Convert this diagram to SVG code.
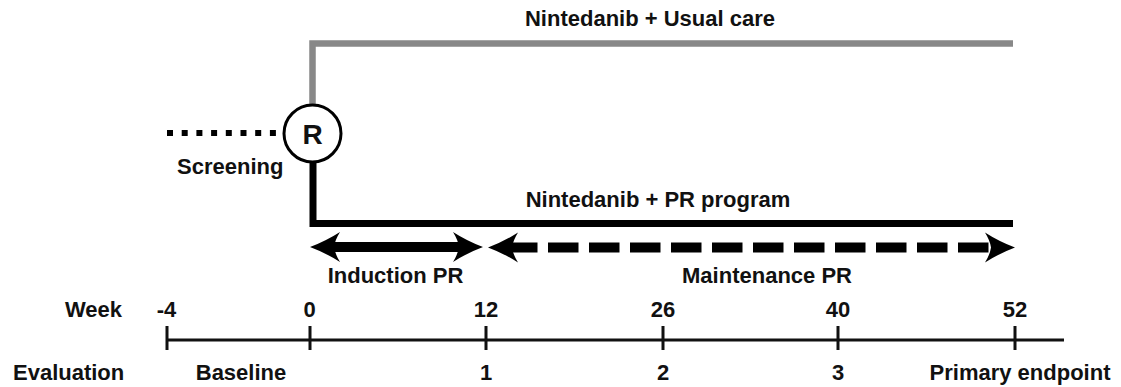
<svg xmlns="http://www.w3.org/2000/svg" width="1121" height="387" viewBox="0 0 1121 387">
<style>
text{font-family:"Liberation Sans",Arial,sans-serif;font-weight:bold;font-size:22px;fill:#111}
.m{text-anchor:middle}
.e{text-anchor:end}
.ax{stroke:#111;stroke-width:3;fill:none}
.ah{fill:#000;stroke:none}
</style>
<defs>
<path id="headL" d="M0,0 Q16,-6 30,-15 Q25,-7 24,0 Q25,7 30,15 Q16,6 0,0 Z"/>
</defs>
<g id="connectors">
<path d="M312.5,105 V43.5 H1013" fill="none" stroke="#888" stroke-width="6.5"/>
<path d="M313,162 V223.5 H1013" fill="none" stroke="#000" stroke-width="7"/>
<line x1="167" y1="133" x2="277" y2="133" stroke="#000" stroke-width="6" stroke-dasharray="6 8.7"/>
</g>
<g id="node-R">
<circle cx="312.5" cy="133.5" r="28.5" fill="#fff" stroke="#000" stroke-width="3"/>
<text class="m" x="312.5" y="144" style="font-size:28px">R</text>
</g>
<g id="node-top-label"><text class="m" x="650" y="26">Nintedanib + Usual care</text></g>
<g id="node-bottom-label"><text class="m" x="658" y="207">Nintedanib + PR program</text></g>
<g id="node-screening"><text x="177" y="174">Screening</text></g>
<g id="induction-arrow">
<line x1="330" y1="247" x2="464" y2="247" stroke="#000" stroke-width="10"/>
<use href="#headL" class="ah" transform="translate(310,247)"/>
<use href="#headL" class="ah" transform="translate(483,247) scale(-1,1)"/>
<text class="m" x="395.5" y="283">Induction PR</text>
</g>
<g id="maintenance-arrow">
<line x1="507" y1="247.5" x2="989" y2="247.5" stroke="#000" stroke-width="10" stroke-dasharray="30.5 10.5"/>
<use href="#headL" class="ah" transform="translate(488,247.5)"/>
<use href="#headL" class="ah" transform="translate(1015,247.5) scale(-1,1)"/>
<text class="m" x="767" y="283">Maintenance PR</text>
</g>
<g id="timeline">
<line class="ax" x1="167" y1="340" x2="1064" y2="340"/>
<path class="ax" d="M167,326V350M310,326V350M486,326V350M663,326V350M838,326V350M1015,326V350"/>
<text class="e" x="122" y="317">Week</text>
<text class="m" x="166.5" y="317">-4</text>
<text class="m" x="309.5" y="317">0</text>
<text class="m" x="486" y="317">12</text>
<text class="m" x="663" y="317">26</text>
<text class="m" x="838" y="317">40</text>
<text class="m" x="1015" y="317">52</text>
<text x="13" y="380">Evaluation</text>
<text class="m" x="241" y="380">Baseline</text>
<text class="m" x="486" y="380">1</text>
<text class="m" x="663" y="380">2</text>
<text class="m" x="838" y="380">3</text>
<text class="m" x="1020" y="380">Primary endpoint</text>
</g>
</svg>
